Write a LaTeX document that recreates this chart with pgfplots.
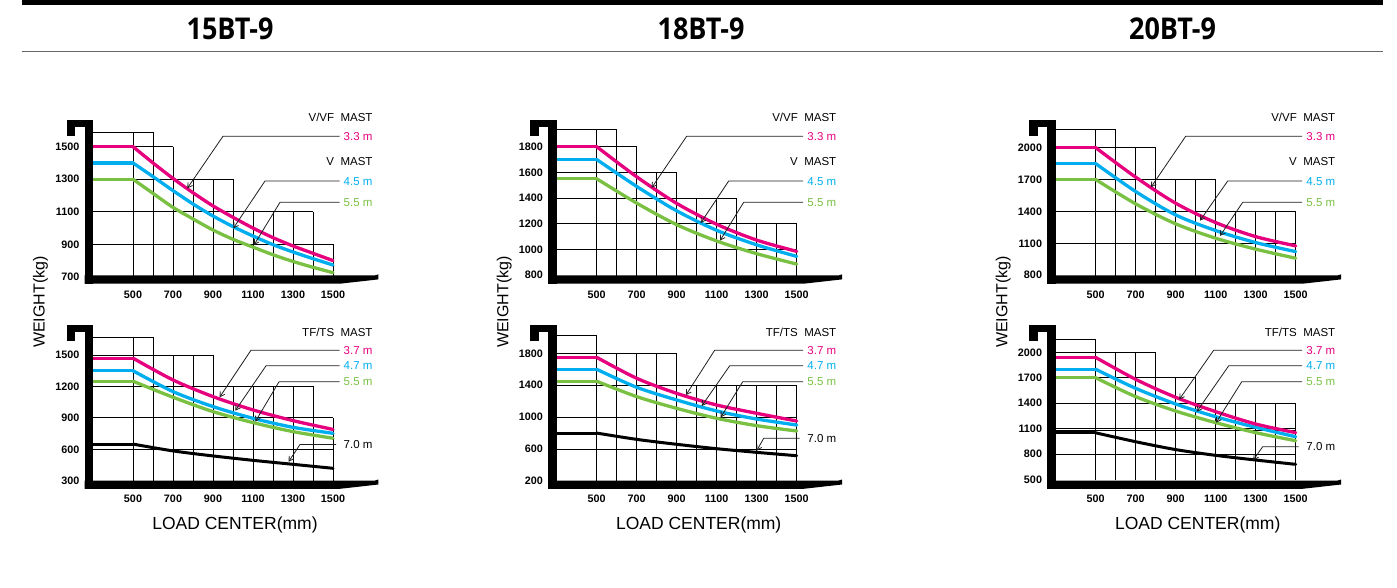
\documentclass[border=0pt]{standalone}
\usepackage{fontspec}
\setmainfont{Liberation Sans}
\newfontfamily\titlefont{Open Sans}
\usepackage{pgfplots}
\pgfplotsset{compat=1.18}
\usetikzlibrary{arrows.meta}
\definecolor{cMag}{RGB}{230,0,126}
\definecolor{cCya}{RGB}{0,174,239}
\definecolor{cGre}{RGB}{122,193,67}

\pgfplotsset{
 fk/.style={
   scale only axis, width=240pt, height=160pt, xmin=300, xmax=1500,
   clip=false, axis line style={draw=none}, tick style={draw=none},
   xtick={500,700,...,1500},
   /pgf/number format/assume math mode=true,
   /pgf/number format/1000 sep={},
   ticklabel style={font=\fontsize{10.8}{12}\selectfont\bfseries},
   yticklabel style={anchor=east, inner sep=0pt, xshift=-13.5pt},
   xticklabel style={anchor=center, inner sep=0pt},
   anchor=south west,
 },
 grd/.style={black, line width=0.9pt, unbounded coords=jump, forget plot},
 mag/.style={cMag, line width=3.3pt, line cap=round, line join=round},
 cya/.style={cCya, line width=3.3pt, line cap=round, line join=round},
 gre/.style={cGre, line width=3.3pt, line cap=round, line join=round},
 blk/.style={black, line width=3pt, line cap=round, line join=round},
}
\tikzset{
 lbl/.style={font=\fontsize{11.5}{13}\selectfont, inner sep=0pt},
 ldr/.style={draw=black!88, line width=0.8pt, {Straight Barb[length=4.5pt,width=5.5pt]}-},
 ttl/.style={font=\titlefont\bfseries\fontsize{30}{34}\selectfont, inner sep=0pt},
}

\newcommand{\fork}[2]{\begin{scope}[shift={(#1pt,#2pt)}]
 \fill[black] (-8.3pt,-8.3pt) rectangle (0pt,155.5pt);
 \fill[black] (-26.3pt,148.2pt) rectangle (0pt,155.5pt);
 \fill[black] (-26.3pt,139.5pt) rectangle (-18pt,155.5pt);
 \fill[black] (-8.3pt,0pt) -- (282pt,0pt) -- (285.3pt,1pt) -- (285.3pt,-4pt) -- (247pt,-8.3pt) -- (-8.3pt,-8.3pt) -- cycle;
\end{scope}}

\newcommand{\topcall}[2]{%
 \node[lbl,anchor=base east] at (#1pt+279.7pt,465.2pt) {V/VF\ \ MAST};
 \node[lbl,anchor=base east,text=cMag] at (#1pt+279.7pt,446.7pt) {3.3 m};
 \node[lbl,anchor=base east] at (#1pt+279.7pt,421.2pt) {V\ \ MAST};
 \node[lbl,anchor=base east,text=cCya] at (#1pt+279.7pt,401.9pt) {4.5 m};
 \node[lbl,anchor=base east,text=cGre] at (#1pt+279.7pt,380.6pt) {5.5 m};
 \draw[ldr] (#21) -- (#1pt+130pt,450.8pt) -- (#1pt+246.5pt,450.8pt);
 \draw[ldr] (#22) -- (#1pt+172pt,406pt) -- (#1pt+246.5pt,406pt);
 \draw[ldr] (#23) -- (#1pt+187pt,384.7pt) -- (#1pt+246.5pt,384.7pt);
}
\newcommand{\botcall}[3]{%
 \node[lbl,anchor=base east] at (#1pt+279.7pt,250.2pt) {TF/TS\ \ MAST};
 \node[lbl,anchor=base east,text=cMag] at (#1pt+279.7pt,232.7pt) {3.7 m};
 \node[lbl,anchor=base east,text=cCya] at (#1pt+279.7pt,217.1pt) {4.7 m};
 \node[lbl,anchor=base east,text=cGre] at (#1pt+279.7pt,201.1pt) {5.5 m};
 \node[lbl,anchor=base east] at (#1pt+279.7pt,#3pt-4.1pt) {7.0 m};
 \draw[ldr] (#21) -- (#1pt+158pt,236.8pt) -- (#1pt+246.5pt,236.8pt);
 \draw[ldr] (#22) -- (#1pt+173pt,221.2pt) -- (#1pt+246.5pt,221.2pt);
 \draw[ldr] (#23) -- (#1pt+186pt,205.2pt) -- (#1pt+246.5pt,205.2pt);
 \draw[ldr] (#24) -- (#1pt+207pt,#3pt) -- (#1pt+243pt,#3pt);
}

\begin{document}
\begin{tikzpicture}
\path[use as bounding box] (0pt,0pt) rectangle (1397pt,587pt);
\fill[black] (21.7pt,582.3pt) rectangle (1382.7pt,587pt);
\draw[black!60, line width=1.3pt] (21.7pt,535.3pt) -- (1382.7pt,535.3pt);
\node[ttl] at (230pt,557.8pt) {\scalebox{0.9}[1]{15BT-9}};
\node[ttl] at (701pt,557.8pt) {\scalebox{0.9}[1]{18BT-9}};
\node[ttl] at (1172.5pt,557.8pt) {\scalebox{0.9}[1]{20BT-9}};

% ================= Panel A : 15BT-9 V/VF
\begin{axis}[fk, at={(93pt,308.47pt)}, ymin=690, ymax=1672.8,
  ytick={700,900,1100,1300,1500}, xticklabel style={yshift=-16.47pt}]
\addplot[grd] coordinates {(300,1590)(600,1590) (300,nan) (300,1500)(700,1500) (300,nan)
  (300,1300)(1000,1300) (300,nan) (300,1100)(1400,1100) (300,nan) (300,900)(1500,900)};
\addplot[grd] coordinates {(500,690)(500,1590) (500,nan) (600,690)(600,1590) (600,nan)
  (700,690)(700,1500) (700,nan) (800,690)(800,1300) (800,nan) (900,690)(900,1300) (900,nan)
  (1000,690)(1000,1300) (1000,nan) (1100,690)(1100,1100) (1100,nan) (1200,690)(1200,1100) (1200,nan)
  (1300,690)(1300,1100) (1300,nan) (1400,690)(1400,1100) (1400,nan) (1500,690)(1500,900)};
\addplot[gre] coordinates {(300,1300)(500,1300)};
\addplot[gre,smooth] coordinates {(500,1300)(600,1213)(700,1127)(800,1056)(900,988)(1000,931)(1100,883)(1200,836)(1300,795)(1400,759)(1500,726)};
\addplot[cya] coordinates {(300,1400)(500,1400)};
\addplot[cya,smooth] coordinates {(500,1400)(600,1316)(700,1230)(800,1148)(900,1074)(1000,1009)(1100,951)(1200,898)(1300,853)(1400,812)(1500,773)};
\addplot[mag] coordinates {(300,1500)(500,1500)};
\addplot[mag,smooth] coordinates {(500,1500)(600,1400)(700,1305)(800,1217)(900,1136)(1000,1066)(1100,1000)(1200,941)(1300,890)(1400,845)(1500,800)};
\coordinate (a1) at (axis cs:771.5,1244);
\coordinate (a2) at (axis cs:1001.5,998.5);
\coordinate (a3) at (axis cs:1105,896);
\end{axis}
\topcall{93}{a}
\fork{93}{311.6}

% ================= Panel B : 15BT-9 TF/TS
\begin{axis}[fk, at={(93pt,105.18pt)}, ymin=290, ymax=1816.7,
  ytick={300,600,900,1200,1500}, xticklabel style={yshift=-16.48pt}]
\addplot[grd] coordinates {(300,1670)(600,1670) (300,nan) (300,1500)(900,1500) (300,nan)
  (300,1200)(1400,1200) (300,nan) (300,900)(1500,900) (300,nan) (300,600)(1500,600)};
\addplot[grd] coordinates {(500,290)(500,1670) (500,nan) (600,290)(600,1670) (600,nan)
  (700,290)(700,1500) (700,nan) (800,290)(800,1500) (800,nan) (900,290)(900,1500) (900,nan)
  (1000,290)(1000,1200) (1000,nan) (1100,290)(1100,1200) (1100,nan) (1200,290)(1200,1200) (1200,nan)
  (1300,290)(1300,1200) (1300,nan) (1400,290)(1400,1200) (1400,nan) (1500,290)(1500,900)};
\addplot[blk] coordinates {(300,650)(500,650)};
\addplot[blk,smooth] coordinates {(500,650)(700,585)(900,537)(1100,495)(1300,457)(1500,419)};
\addplot[gre] coordinates {(300,1250)(500,1250)};
\addplot[gre,smooth] coordinates {(500,1250)(700,1097)(900,960)(1100,855)(1300,769)(1500,706)};
\addplot[cya] coordinates {(300,1350)(500,1350)};
\addplot[cya,smooth] coordinates {(500,1350)(700,1151)(900,1008)(1100,896)(1300,810)(1500,753)};
\addplot[mag] coordinates {(300,1470)(500,1470)};
\addplot[mag,smooth] coordinates {(500,1470)(700,1262)(900,1103)(1100,976)(1300,874)(1500,790)};
\coordinate (b1) at (axis cs:933,1097);
\coordinate (b2) at (axis cs:1011.5,969);
\coordinate (b3) at (axis cs:1111.5,864);
\coordinate (b4) at (axis cs:1278,482);
\end{axis}
\botcall{93}{b}{142.5}
\fork{93}{106.5}

% ================= Panel C : 18BT-9 V/VF
\begin{axis}[fk, at={(556.7pt,310.72pt)}, ymin=790, ymax=2036.8,
  ytick={800,1000,1200,1400,1600,1800}, xticklabel style={yshift=-18.72pt}]
\addplot[grd] coordinates {(300,1935)(600,1935) (300,nan) (300,1800)(700,1800) (300,nan)
  (300,1600)(900,1600) (300,nan) (300,1400)(1200,1400) (300,nan) (300,1200)(1500,1200) (300,nan) (300,1000)(1500,1000)};
\addplot[grd] coordinates {(500,790)(500,1935) (500,nan) (600,790)(600,1935) (600,nan)
  (700,790)(700,1800) (700,nan) (800,790)(800,1600) (800,nan) (900,790)(900,1600) (900,nan)
  (1000,790)(1000,1400) (1000,nan) (1100,790)(1100,1400) (1100,nan) (1200,790)(1200,1400) (1200,nan)
  (1300,790)(1300,1200) (1300,nan) (1400,790)(1400,1200) (1400,nan) (1500,790)(1500,1200)};
\addplot[gre] coordinates {(300,1550)(500,1550)};
\addplot[gre,smooth] coordinates {(500,1550)(700,1360)(900,1192)(1100,1065)(1300,966)(1500,885)};
\addplot[cya] coordinates {(300,1700)(500,1700)};
\addplot[cya,smooth] coordinates {(500,1700)(700,1490)(900,1300)(1100,1148)(1300,1035)(1500,945)};
\addplot[mag] coordinates {(300,1800)(500,1800)};
\addplot[mag,smooth] coordinates {(500,1800)(700,1565)(900,1358)(1100,1195)(1300,1072)(1500,984)};
\coordinate (c1) at (axis cs:775,1480);
\coordinate (c2) at (axis cs:1020,1205);
\coordinate (c3) at (axis cs:1116.5,1068);
\end{axis}
\topcall{556.7}{c}
\fork{556.7}{311.6}

% ================= Panel D : 18BT-9 TF/TS
\begin{axis}[fk, at={(556.7pt,105.3pt)}, ymin=190, ymax=2197,
  ytick={200,600,1000,1400,1800}, xticklabel style={yshift=-16.6pt}]
\addplot[grd] coordinates {(300,2030)(500,2030) (300,nan) (300,1800)(900,1800) (300,nan)
  (300,1400)(1500,1400) (300,nan) (300,1000)(1500,1000) (300,nan) (300,600)(1500,600)};
\addplot[grd] coordinates {(500,190)(500,2030) (500,nan) (600,190)(600,1800) (600,nan)
  (700,190)(700,1800) (700,nan) (800,190)(800,1800) (800,nan) (900,190)(900,1800) (900,nan)
  (1000,190)(1000,1400) (1000,nan) (1100,190)(1100,1400) (1100,nan) (1200,190)(1200,1400) (1200,nan)
  (1300,190)(1300,1400) (1300,nan) (1400,190)(1400,1400) (1400,nan) (1500,190)(1500,1400)};
\addplot[blk] coordinates {(300,800)(500,800)};
\addplot[blk,smooth] coordinates {(500,800)(700,721)(900,659)(1100,604)(1300,558)(1500,516)};
\addplot[gre] coordinates {(300,1450)(500,1450)};
\addplot[gre,smooth] coordinates {(500,1450)(700,1257)(900,1110)(1100,985)(1300,893)(1500,826)};
\addplot[cya] coordinates {(300,1600)(500,1600)};
\addplot[cya,smooth] coordinates {(500,1600)(700,1374)(900,1215)(1100,1077)(1300,976)(1500,901)};
\addplot[mag] coordinates {(300,1750)(500,1750)};
\addplot[mag,smooth] coordinates {(500,1750)(700,1487)(900,1298)(1100,1152)(1300,1048)(1500,951)};
\coordinate (d1) at (axis cs:946.5,1277.5);
\coordinate (d2) at (axis cs:1025,1139.5);
\coordinate (d3) at (axis cs:1120,998);
\coordinate (d4) at (axis cs:1300,579);
\end{axis}
\botcall{556.7}{d}{148.7}
\fork{556.7}{106.5}

% ================= Panel E : 20BT-9 V/VF
\begin{axis}[fk, at={(1055.7pt,310.72pt)}, ymin=790, ymax=2295.2,
  ytick={800,1100,1400,1700,2000}, xticklabel style={yshift=-18.72pt}]
\addplot[grd] coordinates {(300,2173)(600,2173) (300,nan) (300,2000)(800,2000) (300,nan)
  (300,1700)(1100,1700) (300,nan) (300,1400)(1500,1400) (300,nan) (300,1100)(1500,1100)};
\addplot[grd] coordinates {(500,790)(500,2173) (500,nan) (600,790)(600,2173) (600,nan)
  (700,790)(700,2000) (700,nan) (800,790)(800,2000) (800,nan) (900,790)(900,1700) (900,nan)
  (1000,790)(1000,1700) (1000,nan) (1100,790)(1100,1700) (1100,nan) (1200,790)(1200,1400) (1200,nan)
  (1300,790)(1300,1400) (1300,nan) (1400,790)(1400,1400) (1400,nan) (1500,790)(1500,1400)};
\addplot[gre] coordinates {(300,1700)(500,1700)};
\addplot[gre,smooth] coordinates {(500,1700)(700,1471)(900,1283)(1100,1148)(1300,1045)(1500,960)};
\addplot[cya] coordinates {(300,1850)(500,1850)};
\addplot[cya,smooth] coordinates {(500,1850)(700,1587)(900,1367)(1100,1220)(1300,1107)(1500,1022)};
\addplot[mag] coordinates {(300,2000)(500,2000)};
\addplot[mag,smooth] coordinates {(500,2000)(700,1722)(900,1477)(1100,1295)(1300,1163)(1500,1076)};
\coordinate (e1) at (axis cs:776.5,1628);
\coordinate (e2) at (axis cs:1021.5,1313.6);
\coordinate (e3) at (axis cs:1121.5,1170);
\end{axis}
\topcall{1055.7}{e}
\fork{1055.7}{311.6}

% ================= Panel F : 20BT-9 TF/TS
\begin{axis}[fk, at={(1055.7pt,106.73pt)}, ymin=490, ymax=2378.6,
  ytick={500,800,1100,1400,1700,2000}, xticklabel style={yshift=-18.03pt}]
\addplot[grd] coordinates {(300,2153)(500,2153) (300,nan) (300,2000)(800,2000) (300,nan)
  (300,1700)(1000,1700) (300,nan) (300,1400)(1500,1400) (300,nan) (300,1100)(1500,1100) (300,nan)
  (300,1075)(1500,1075) (300,nan) (300,800)(1500,800)};
\addplot[grd] coordinates {(500,490)(500,2153) (500,nan) (600,490)(600,2000) (600,nan)
  (700,490)(700,2000) (700,nan) (800,490)(800,2000) (800,nan) (900,490)(900,1700) (900,nan)
  (1000,490)(1000,1700) (1000,nan) (1100,490)(1100,1400) (1100,nan) (1200,490)(1200,1400) (1200,nan)
  (1300,490)(1300,1400) (1300,nan) (1400,490)(1400,1400) (1400,nan) (1500,490)(1500,1400)};
\addplot[blk] coordinates {(300,1050)(500,1050)};
\addplot[blk,smooth] coordinates {(500,1050)(700,945)(900,852)(1100,784)(1300,729)(1500,678)};
\addplot[gre] coordinates {(300,1700)(500,1700)};
\addplot[gre,smooth] coordinates {(500,1700)(700,1477)(900,1307)(1100,1170)(1300,1052)(1500,957)};
\addplot[cya] coordinates {(300,1800)(500,1800)};
\addplot[cya,smooth] coordinates {(500,1800)(700,1575)(900,1390)(1100,1240)(1300,1115)(1500,1004)};
\addplot[mag] coordinates {(300,1940)(500,1940)};
\addplot[mag,smooth] coordinates {(500,1940)(700,1681)(900,1469)(1100,1300)(1300,1154)(1500,1052)};
\coordinate (f1) at (axis cs:918,1445);
\coordinate (f2) at (axis cs:1005,1299);
\coordinate (f3) at (axis cs:1101.5,1169);
\coordinate (f4) at (axis cs:1288,729);
\end{axis}
\botcall{1055.7}{f}{140.3}
\fork{1055.7}{106.5}

% axis titles
\node[rotate=90, font=\fontsize{16}{18}\selectfont, inner sep=0pt] at (40.5pt,284.8pt) {WEIGHT(kg)};
\node[rotate=90, font=\fontsize{16}{18}\selectfont, inner sep=0pt] at (504.2pt,284.8pt) {WEIGHT(kg)};
\node[rotate=90, font=\fontsize{16}{18}\selectfont, inner sep=0pt] at (1003.2pt,284.8pt) {WEIGHT(kg)};
\node[font=\fontsize{17.5}{20}\selectfont, inner sep=0pt] at (235pt,62pt) {LOAD CENTER(mm)};
\node[font=\fontsize{17.5}{20}\selectfont, inner sep=0pt] at (698.7pt,62pt) {LOAD CENTER(mm)};
\node[font=\fontsize{17.5}{20}\selectfont, inner sep=0pt] at (1197.7pt,62pt) {LOAD CENTER(mm)};
\end{tikzpicture}
\end{document}
